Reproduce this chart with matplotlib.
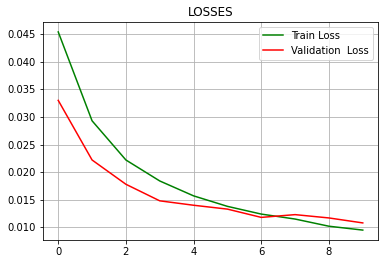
import numpy as np
import matplotlib
matplotlib.use('Agg')
import matplotlib.pyplot as plt

# Loss values per epoch
epochs = list(range(10))
train_loss = [0.0454, 0.0293, 0.0222, 0.0184, 0.0157, 0.0138, 0.0124, 0.0115, 0.0102, 0.0095]
val_loss = [0.0330, 0.0222, 0.0178, 0.0148, 0.0140, 0.0133, 0.0118, 0.0123, 0.0117, 0.0108]

fig = plt.figure(figsize=(388/72, 264/72), dpi=72)
ax = fig.add_axes([43/388, 1 - 240/264, (378-43)/388, (240-22)/264])

ax.plot(epochs, train_loss, color='green', label='Train Loss')
ax.plot(epochs, val_loss, color='red', label='Validation  Loss')

ax.set_title('LOSSES')
ax.set_xticks([0, 2, 4, 6, 8])
ax.set_yticks([0.010, 0.015, 0.020, 0.025, 0.030, 0.035, 0.040, 0.045])
ax.grid(True)
ax.legend(loc='upper right')

plt.savefig('out.png', dpi=72)
